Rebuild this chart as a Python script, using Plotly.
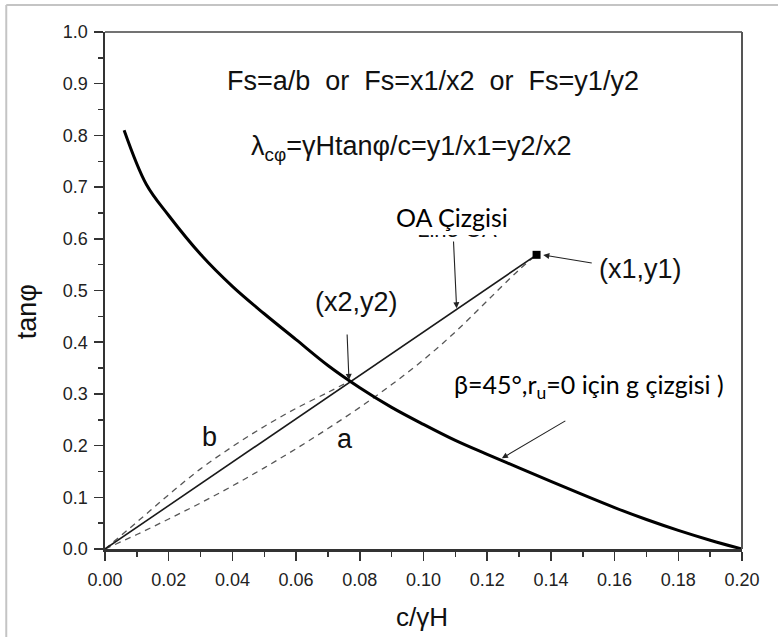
import plotly.graph_objects as go

# ---- data ----
g_x = [0.006, 0.013, 0.02, 0.03, 0.04, 0.05, 0.06, 0.07, 0.08, 0.09, 0.10,
       0.11, 0.12, 0.13, 0.14, 0.15, 0.16, 0.17, 0.18, 0.19, 0.20]
g_y = [0.81, 0.705, 0.645, 0.57, 0.508, 0.455, 0.405, 0.355, 0.312, 0.274, 0.241,
       0.21, 0.183, 0.157, 0.131, 0.105, 0.08, 0.057, 0.036, 0.017, 0.0]

oa_x = [0.0, 0.1355]
oa_y = [0.0, 0.569]

b_x = [0.0, 0.01, 0.02, 0.03, 0.04, 0.05, 0.06, 0.07, 0.0766]
b_y = [0.0, 0.052, 0.105, 0.155, 0.198, 0.237, 0.272, 0.303, 0.324]

a_x = [0.0, 0.01, 0.02, 0.03, 0.04, 0.05, 0.06, 0.07, 0.08, 0.09, 0.10,
       0.11, 0.12, 0.13, 0.1355]
a_y = [0.0, 0.028, 0.058, 0.089, 0.122, 0.157, 0.194, 0.233, 0.274, 0.318,
       0.366, 0.42, 0.48, 0.54, 0.569]

x1y1 = (0.1355, 0.569)
x2y2 = (0.0766, 0.325)

ARIAL = "Liberation Sans, Arial, sans-serif"
CALIBRI = "Lato, Noto Sans, sans-serif"

fig = go.Figure()

fig.add_trace(go.Scatter(x=b_x, y=b_y, mode="lines",
                         line=dict(color="#555555", width=1.3, dash="6px,5px"),
                         line_shape="spline", hoverinfo="skip"))
fig.add_trace(go.Scatter(x=a_x, y=a_y, mode="lines",
                         line=dict(color="#555555", width=1.3, dash="6px,5px"),
                         line_shape="spline", hoverinfo="skip"))
fig.add_trace(go.Scatter(x=oa_x, y=oa_y, mode="lines",
                         line=dict(color="#1a1a1a", width=1.6), hoverinfo="skip"))
fig.add_trace(go.Scatter(x=g_x, y=g_y, mode="lines",
                         line=dict(color="#000000", width=3), line_shape="spline",
                         hoverinfo="skip"))
fig.add_trace(go.Scatter(x=[x1y1[0]], y=[x1y1[1]], mode="markers",
                         marker=dict(symbol="square", size=8, color="#000000"),
                         hoverinfo="skip"))
# old label "Line OA", mostly hidden beneath a white patch
fig.add_trace(go.Scatter(x=[0.1105], y=[0.615], mode="text", text=["Line OA"],
                         textfont=dict(family=ARIAL, size=22, color="#111111"),
                         textposition="middle center", hoverinfo="skip"))

shapes = [
    # white patch hiding the old label
    dict(type="rect", xref="x", yref="y", x0=0.0911, x1=0.1287, y0=0.6075, y1=0.6654,
         fillcolor="white", line=dict(width=0), layer="above"),
    # top & right frame
    dict(type="line", xref="paper", yref="paper", x0=0, x1=1, y0=1, y1=1,
         line=dict(color="#444444", width=1.6), layer="above"),
    dict(type="line", xref="paper", yref="paper", x0=1, x1=1, y0=0, y1=1,
         line=dict(color="#555555", width=2), layer="above"),
    # outer gray page border (left and top)
    dict(type="line", xref="paper", yref="paper", x0=-0.155, x1=-0.155, y0=-0.2, y1=1.052,
         line=dict(color="#c4c4c4", width=2)),
    dict(type="line", xref="paper", yref="paper", x0=-0.155, x1=1.06, y0=1.052, y1=1.052,
         line=dict(color="#c4c4c4", width=2)),
]

ann = []
def txt(x, y, s, size, family=ARIAL, xanchor="center", color="#111111"):
    ann.append(dict(x=x, y=y, xref="x", yref="y", text=s, showarrow=False,
                    xanchor=xanchor, yanchor="middle",
                    font=dict(family=family, size=size, color=color)))

def arrow(tx, ty, hx, hy):
    ann.append(dict(x=hx, y=hy, ax=tx, ay=ty, xref="x", yref="y", axref="x", ayref="y",
                    text="", showarrow=True, arrowhead=2, arrowsize=1.1,
                    arrowwidth=1.1, arrowcolor="#222222"))

txt(0.1031, 0.905, "Fs=a/b  or  Fs=x1/x2  or  Fs=y1/y2", 27)
txt(0.0961, 0.775, "λ<sub>cφ</sub>=γHtanφ/c=y1/x1=y2/x2", 27)
txt(0.1088, 0.642, "OA Çizgisi", 25, family=CALIBRI, color="#000000")
txt(0.168, 0.5416, "(x1,y1)", 27)
txt(0.079, 0.4768, "(x2,y2)", 27)
txt(0.0327, 0.2166, "b", 27)
txt(0.0755, 0.213, "a", 27)
txt(0.1089, 0.3153, "β=45°,r<sub>u</sub>=0 için g çizgisi )", 25, family=CALIBRI,
    xanchor="left", color="#000000")

arrow(0.1094, 0.5977, 0.1104, 0.4656)
arrow(0.1533, 0.5526, 0.1376, 0.5687)
arrow(0.076, 0.4178, 0.0766, 0.3269)
arrow(0.145, 0.2495, 0.1246, 0.1754)

# axis titles
ann.append(dict(x=-0.1225, y=0.46, xref="paper", yref="paper", text="tanφ",
                textangle=-90, showarrow=False, xanchor="center", yanchor="middle",
                font=dict(family=ARIAL, size=27, color="#111111")))
ann.append(dict(x=0.4984, y=-0.1315, xref="paper", yref="paper", text="c/γH",
                showarrow=False, xanchor="center", yanchor="middle",
                font=dict(family=ARIAL, size=26, color="#111111")))

fig.update_layout(
    width=778, height=637, autosize=False,
    margin=dict(l=105, r=36, t=32, b=88),
    paper_bgcolor="white", plot_bgcolor="white",
    showlegend=False,
    shapes=shapes, annotations=ann,
    xaxis=dict(range=[0, 0.2], dtick=0.02, tick0=0, tickformat=".2f",
               showgrid=False, zeroline=False, showline=True,
               linecolor="#333333", linewidth=2.5,
               ticks="outside", ticklen=9, tickwidth=1.5, tickcolor="#333333",
               minor=dict(dtick=0.01, ticks="outside", ticklen=5, tickwidth=1.5,
                          tickcolor="#333333", showgrid=False),
               tickfont=dict(family=ARIAL, size=18, color="#222222"),
               ticklabelstandoff=4),
    yaxis=dict(range=[0, 1.0], dtick=0.1, tick0=0, tickformat=".1f",
               showgrid=False, zeroline=False, showline=True,
               linecolor="#333333", linewidth=2.5,
               ticks="outside", ticklen=9, tickwidth=1.5, tickcolor="#333333",
               minor=dict(dtick=0.05, ticks="outside", ticklen=5, tickwidth=1.5,
                          tickcolor="#333333", showgrid=False),
               tickfont=dict(family=ARIAL, size=18, color="#222222"),
               ticklabelstandoff=2),
)

fig.write_html("out.html",
               config={"displayModeBar": False, "staticPlot": True},
               post_script="document.body.style.margin='0px';"
                           "document.body.style.overflow='hidden';")
